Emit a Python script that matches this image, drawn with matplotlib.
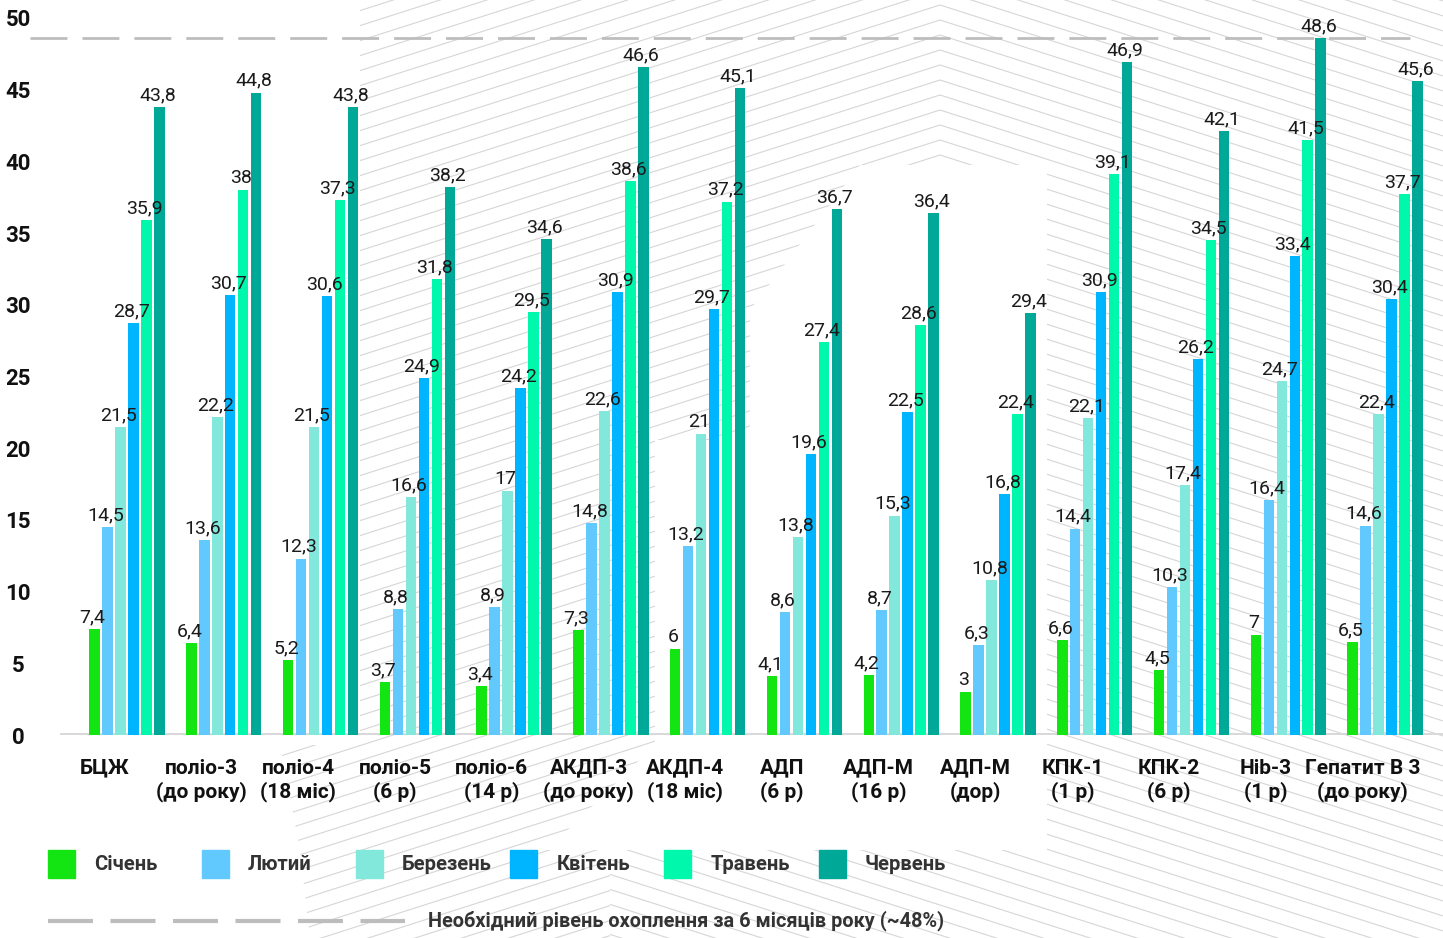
import numpy as np
import matplotlib
matplotlib.use("Agg")
import matplotlib.pyplot as plt
from matplotlib.collections import LineCollection
from matplotlib.patches import Polygon, Rectangle

plt.rcParams["font.family"] = ["Roboto", "DejaVu Sans"]

# дані
categories = ["БЦЖ", "поліо-3\n(до року)", "поліо-4\n(18 міс)", "поліо-5\n(6 р)", "поліо-6\n(14 р)",
              "АКДП-3\n(до року)", "АКДП-4\n(18 міс)", "АДП\n(6 р)", "АДП-М\n(16 р)", "АДП-М\n(дор)",
              "КПК-1\n(1 р)", "КПК-2\n(6 р)", "Hib-3\n(1 р)", "Гепатит В 3\n(до року)"]
months = ["Січень", "Лютий", "Березень", "Квітень", "Травень", "Червень"]
colors = ["#12e512", "#62c9ff", "#82e8dc", "#00b5ff", "#00f8ac", "#00a997"]

jan = [7.4, 6.4, 5.2, 3.7, 3.4, 7.3, 6, 4.1, 4.2, 3, 6.6, 4.5, 7, 6.5]
feb = [14.5, 13.6, 12.3, 8.8, 8.9, 14.8, 13.2, 8.6, 8.7, 6.3, 14.4, 10.3, 16.4, 14.6]
mar = [21.5, 22.2, 21.5, 16.6, 17, 22.6, 21, 13.8, 15.3, 10.8, 22.1, 17.4, 24.7, 22.4]
apr = [28.7, 30.7, 30.6, 24.9, 24.2, 30.9, 29.7, 19.6, 22.5, 16.8, 30.9, 26.2, 33.4, 30.4]
may = [35.9, 38, 37.3, 31.8, 29.5, 38.6, 37.2, 27.4, 28.6, 22.4, 39.1, 34.5, 41.5, 37.7]
jun = [43.8, 44.8, 43.8, 38.2, 34.6, 46.6, 45.1, 36.7, 36.4, 29.4, 46.9, 42.1, 48.6, 45.6]
series = [jan, feb, mar, apr, may, jun]

target = 48.6
target_label = "Необхідний рівень охоплення за 6 місяців року (~48%)"

W, H = 1443, 938
fig = plt.figure(figsize=(W / 100, H / 100), dpi=100)

# фон зі штриховкою
bg = fig.add_axes([0, 0, 1, 1])
bg.set_xlim(0, W)
bg.set_ylim(H, 0)
bg.axis("off")


def hatch(poly, sign):
    patch = Polygon(poly, closed=True, facecolor="none", edgecolor="none")
    bg.add_patch(patch)
    segs = []
    for b in np.arange(-700, 1400, 15):
        segs.append([(0, b + sign * 0.32 * (0 - 940)), (W, b + sign * 0.32 * (W - 940))])
    lc = LineCollection(segs, colors="#d6d6d6", linewidths=0.8, zorder=1)
    bg.add_collection(lc)
    lc.set_clip_path(patch)


hatch([(360, 0), (940, 0), (940, 165), (860, 165), (750, 310), (750, 440), (655, 440),
       (655, 745), (547, 850), (610, 850), (610, 938), (310, 938), (300, 850), (280, 745),
       (360, 745)], -1)
hatch([(940, 0), (W, 0), (W, H), (610, H), (610, 850), (1047, 850), (1047, 165), (940, 165)], 1)

# основний графік
ax = fig.add_axes([60 / W, (H - 735) / H, (W - 60) / W, 717 / H])
ax.patch.set_alpha(0)
x = np.arange(len(categories))
pitch = 0.134
bw = 0.108
for j, (vals, c) in enumerate(zip(series, colors)):
    pos = x + (j - 2.5) * pitch
    ax.bar(pos, vals, width=bw, color=c, zorder=3, label=months[j])
    for p, v in zip(pos, vals):
        ax.annotate(f"{v:g}".replace(".", ","), (p, v), xytext=(-1.5, 2), textcoords="offset points",
                    ha="center", va="bottom", fontsize=14, color="#1a1a1a", zorder=4)

ax.axhline(0, color="#d9d9d9", lw=3.6, zorder=2)
ax.hlines(target, -1.0, 13.26, colors="#bdbdbd", lw=2, linestyles=[(0, (13.3, 5.4))],
          clip_on=False, zorder=1)

ax.set_xlim(-0.6924, 13.599)
ax.set_ylim(0, 50)
ax.set_yticks(range(0, 51, 5))
ax.tick_params(axis="y", length=0, pad=30, labelsize=16)
for lbl in ax.get_yticklabels():
    lbl.set_horizontalalignment("center")
    lbl.set_fontweight("bold")
    lbl.set_color("#111111")
ax.set_xticks(x - 0.23, categories)
ax.tick_params(axis="x", length=0, pad=17, labelsize=15)
for lbl in ax.get_xticklabels():
    lbl.set_fontweight("bold")
    lbl.set_color("#111111")
for s in ax.spines.values():
    s.set_visible(False)

# легенда
for i, (m, c) in enumerate(zip(months, colors)):
    sx = 48 + i * 154.1
    bg.add_patch(Rectangle((sx, 850), 27, 28, color=c, zorder=3))
    bg.text(sx + 46, 864, m, va="center", ha="left", fontsize=14.5, fontweight="bold",
            color="#333333", zorder=3)
bg.plot([48, 405], [921, 921], color="#bdbdbd", lw=3, linestyle=(0, (10.8, 4.2)), zorder=3)
bg.text(428, 921, target_label, va="center", ha="left", fontsize=14.3, fontweight="bold",
        color="#333333", zorder=3)

fig.savefig("out.png", dpi=100)
